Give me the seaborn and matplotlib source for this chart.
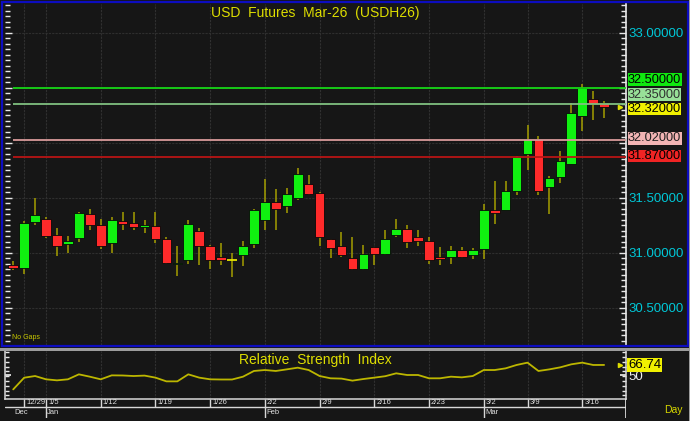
import numpy as np
import pandas as pd
import seaborn as sns
import matplotlib.pyplot as plt
from matplotlib.ticker import MultipleLocator, FuncFormatter
from matplotlib.patches import Rectangle

# trading days on the chart
dates = ["12/26", "12/29", "12/30",
         "1/5", "1/6", "1/7", "1/8", "1/9",
         "1/12", "1/13", "1/14", "1/15", "1/16",
         "1/19", "1/20", "1/21", "1/22", "1/23",
         "1/26", "1/27", "1/28", "1/29", "1/30",
         "2/2", "2/3", "2/4", "2/5", "2/6",
         "2/9", "2/10", "2/11", "2/12", "2/13",
         "2/16", "2/17", "2/18", "2/19", "2/20",
         "2/23", "2/24", "2/25", "2/26", "2/27",
         "3/2", "3/3", "3/4", "3/5",
         "3/9", "3/10", "3/11", "3/12", "3/13",
         "3/16", "3/17", "3/18"]

opens = [30.89, 30.86, 31.28, 31.31, 31.16, 31.08, 31.13, 31.35, 31.25, 31.09,
         31.29, 31.27, 31.23, 31.24, 31.12, 30.90, 30.93, 31.20, 31.06, 30.96,
         30.93, 30.98, 31.08, 31.30, 31.46, 31.42, 31.50, 31.62, 31.54, 31.12,
         31.06, 30.95, 30.85, 31.05, 30.99, 31.16, 31.21, 31.14, 31.11, 30.96,
         30.96, 31.02, 30.98, 31.03, 31.39, 31.39, 31.56, 31.90, 32.03, 31.60,
         31.69, 31.81, 32.24, 32.40, 32.36]
highs = [30.92, 31.29, 31.50, 31.32, 31.22, 31.15, 31.37, 31.40, 31.31, 31.32,
         31.37, 31.37, 31.30, 31.37, 31.14, 31.06, 31.30, 31.22, 31.07, 31.09,
         31.00, 31.11, 31.40, 31.67, 31.58, 31.59, 31.77, 31.71, 31.55, 31.12,
         31.19, 31.14, 31.07, 31.05, 31.21, 31.31, 31.25, 31.21, 31.14, 31.05,
         31.06, 31.05, 31.04, 31.44, 31.65, 31.65, 31.88, 32.16, 32.06, 31.70,
         31.92, 32.36, 32.53, 32.47, 32.38]
lows = [30.84, 30.81, 31.25, 31.13, 30.97, 31.00, 31.10, 31.21, 31.03, 31.00,
        31.21, 31.21, 31.18, 31.09, 30.90, 30.79, 30.90, 30.89, 30.85, 30.89,
        30.78, 30.88, 31.04, 31.21, 31.21, 31.36, 31.48, 31.52, 31.06, 30.95,
        30.96, 30.84, 30.84, 30.89, 30.98, 31.14, 31.04, 31.06, 30.90, 30.89,
        30.90, 30.95, 30.94, 30.94, 31.26, 31.39, 31.52, 31.75, 31.52, 31.35,
        31.63, 31.81, 32.11, 32.21, 32.22]
closes = [30.86, 31.27, 31.34, 31.15, 31.06, 31.11, 31.36, 31.25, 31.06, 31.30,
          31.26, 31.23, 31.25, 31.12, 30.91, 30.91, 31.26, 31.06, 30.93, 30.93,
          30.93, 31.06, 31.39, 31.46, 31.40, 31.53, 31.71, 31.53, 31.14, 31.04,
          30.98, 30.85, 30.99, 30.99, 31.12, 31.21, 31.10, 31.11, 30.93, 30.94,
          31.02, 30.96, 31.02, 31.39, 31.36, 31.56, 31.87, 32.03, 31.56, 31.68,
          31.83, 32.27, 32.50, 32.35, 32.32]

rsi = [26.0, 45.5, 48.3, 42.8, 41.1, 42.8, 51.1, 47.2, 42.8, 49.4,
       49.2, 48.3, 49.0, 45.6, 39.4, 39.4, 51.1, 45.6, 42.8, 42.5,
       42.5, 47.2, 56.7, 58.3, 56.7, 59.4, 62.2, 58.3, 48.3, 44.5,
       44.0, 40.6, 43.3, 45.6, 48.0, 52.8, 50.0, 50.0, 44.5, 44.5,
       47.2, 46.1, 48.3, 58.3, 58.3, 61.1, 66.7, 70.6, 56.7, 59.4,
       62.8, 67.8, 70.6, 66.7, 66.74]

# horizontal study lines: value, line colour, box colour, text colour
levels = [32.50, 32.35, 32.32, 32.02, 31.87]
level_line_colors = ["#16d616", "#80c080", None, "#d89a9a", "#b81414"]
level_box_colors = ["#10e810", "#98e098", "#f0f000", "#f2b4b4", "#f02424"]
level_text_colors = ["#000000", "#303030", "#000000", "#202020", "#000000"]
level_shift_px = [8, 9.5, -1.5, 2, 1]

title = "USD  Futures  Mar-26  (USDH26)"
rsi_title = "Relative  Strength  Index"
month_names = {12: "Dec", 1: "Jan", 2: "Feb", 3: "Mar"}

BG = "#161616"
YEL = "#dede00"
W, H = 690, 421

sns.set_theme(style="dark", rc={"axes.facecolor": BG, "figure.facecolor": BG})
plt.rcParams['font.family'] = ['Liberation Sans', 'DejaVu Sans']


def px(x0, y0, x1, y1):
    return [x0 / W, 1 - y1 / H, (x1 - x0) / W, (y1 - y0) / H]


def price_fmt(v, pos):
    # labels sitting under a study box are hidden, as on the terminal
    if any(abs(v - lv) < 0.1 for lv in levels):
        return ""
    return f"{v:.5f}"


n = len(dates)
idx = np.arange(n)
dt = pd.to_datetime([("2025/" if d.startswith("12/") else "2026/") + d for d in dates],
                    format="%Y/%m/%d")
weeks = dt.isocalendar().week.values
week_starts = [i for i in range(1, n) if weeks[i] != weeks[i - 1]]
month_starts = [i for i in range(1, n) if dt.month[i] != dt.month[i - 1]]
xlim = (-0.75, n + 1.0)

fig = plt.figure(figsize=(W / 100, H / 100), dpi=100)

# ---------------- main price panel
ax = fig.add_axes(px(5, 4, 626, 345))
ax.set_facecolor(BG)
ax.set_xlim(*xlim)
ax.set_ylim(30.16, 33.26)

o = np.array(opens); c = np.array(closes)
up = c >= o
doji = np.isclose(o, c)
body_col = np.where(up, "#10f010", "#ff2a2a")
ax.vlines(idx, lows, highs, color="#a59f00", lw=1.1, zorder=2)
ax.bar(idx[~doji], np.abs(c - o)[~doji], bottom=np.minimum(o, c)[~doji], width=0.88,
       color=body_col[~doji], edgecolor="#080808", linewidth=0.6, zorder=3)
ax.hlines(c[doji], idx[doji] - 0.44, idx[doji] + 0.44, color="#e6e600", lw=1.3, zorder=3)

for lv, lc in zip(levels, level_line_colors):
    if lc:
        ax.hlines(lv, 0, xlim[1], color=lc, lw=1.3, zorder=4)

# grid
for i in week_starts:
    ax.axvline(i, color="#303030", lw=0.8, ls=(0, (2, 1)), zorder=1)
ax.yaxis.set_major_locator(MultipleLocator(0.5))
ax.yaxis.set_minor_locator(MultipleLocator(0.05))
ax.yaxis.set_major_formatter(FuncFormatter(price_fmt))
ax.grid(axis="y", which="major", color="#2e2e2e", lw=0.8, ls=(0, (2, 1)))
ax.grid(axis="x", visible=False)
ax.set_xticks([])
ax.yaxis.set_ticks_position("both")
ax.tick_params(axis="y", which="both", direction="in", color="#e8e8e8",
               labelleft=False, labelright=True)
ax.tick_params(axis="y", which="major", length=5, width=1, labelsize=9.5,
               labelcolor="#00c8d8", pad=2)
ax.tick_params(axis="y", which="minor", length=3.5, width=1)
for s in ["top", "bottom", "left"]:
    ax.spines[s].set_visible(False)
ax.spines["right"].set_color("#e8e8e8")
ax.spines["right"].set_linewidth(1.2)

for lv, bc, tc, sh in zip(levels, level_box_colors, level_text_colors, level_shift_px):
    ax.annotate(f"{lv:.5f}", xy=(1, lv), xycoords=("axes fraction", "data"),
                xytext=(2, sh), textcoords="offset pixels", ha="left", va="center",
                fontsize=9.2, color=tc, annotation_clip=False, zorder=6,
                bbox=dict(boxstyle="square,pad=0.02", fc=bc, ec="none"))
ax.plot([xlim[1] - 0.55], [closes[-1]], marker=">", ms=3, color=YEL, clip_on=False, zorder=6)

ax.text(0.5, 0.975, title, transform=ax.transAxes, ha="center", va="center",
        fontsize=10, color=YEL)
ax.text(0.012, 0.012, "No Gaps", transform=ax.transAxes, ha="left", va="bottom",
        fontsize=5, color="#c8c800")

# ---------------- RSI panel
ax2 = fig.add_axes(px(5, 351, 626, 399))
ax2.set_facecolor(BG)
sns.lineplot(x=idx, y=rsi, ax=ax2, color="#bcb600", lw=1.3)
ax2.set_xlim(*xlim)
ax2.set_ylim(10, 90)
for i in week_starts:
    ax2.axvline(i, color="#303030", lw=0.8, ls=(0, (2, 1)), zorder=0)
ax2.grid(False)
ax2.set_xticks([])
ax2.set_yticks([50])
ax2.yaxis.set_minor_locator(MultipleLocator(8))
ax2.yaxis.set_ticks_position("both")
ax2.tick_params(axis="y", which="both", direction="in", color="#e8e8e8",
                labelleft=False, labelright=True)
ax2.tick_params(axis="y", which="major", length=4, labelsize=9.5,
                labelcolor="#f0f0f0", pad=2)
ax2.tick_params(axis="y", which="minor", length=3)
ax2.spines["top"].set_visible(False)
for s in ["left", "bottom", "right"]:
    ax2.spines[s].set_color("#d8d8d8")
    ax2.spines[s].set_linewidth(1.1)
ax2.set_xlabel("")
ax2.set_ylabel("")
ax2.annotate(f"{rsi[-1]:.2f}", xy=(1, rsi[-1]), xycoords=("axes fraction", "data"),
             xytext=(2, 0), textcoords="offset pixels", ha="left", va="center",
             fontsize=9.5, color="#000000", annotation_clip=False, zorder=6,
             bbox=dict(boxstyle="square,pad=0.05", fc="#f0f000", ec="none"))
ax2.plot([xlim[1] - 0.55], [rsi[-1]], marker=">", ms=3, color=YEL, clip_on=False, zorder=6)
ax2.text(0.5, 0.82, rsi_title, transform=ax2.transAxes, ha="center", va="center",
         fontsize=10, color=YEL)

# ---------------- date rows
ax3 = fig.add_axes(px(5, 399, 626, 418))
ax3.set_facecolor(BG)
ax3.set_xlim(*xlim)
ax3.set_ylim(0, 19)
ax3.axis("off")
ax3.axhline(11, color="#d8d8d8", lw=1)
for i in week_starts:
    ax3.vlines(i, 11, 19, color="#d8d8d8", lw=1)
    ax3.text(i + 0.18, 15, f"{dt.month[i]}/{dt.day[i]}", ha="left", va="center",
             fontsize=5.5, color="#e0e0e0")
for i in month_starts:
    ax3.vlines(i, 0, 11, color="#d8d8d8", lw=1)
for i in [0] + month_starts:
    ax3.text(i + 0.12, 5.5, month_names[dt.month[i]], ha="left", va="center",
             fontsize=5.5, color="#e0e0e0")
ax3.vlines(xlim[1], 0, 19, color="#e8e8e8", lw=1.2)

# ---------------- frame
fig.text(664 / W, 1 - 410 / H, "Day", ha="left", va="center", fontsize=7.5, color="#d8d800")
fig.patches.append(Rectangle((1.5 / W, 1 - 346 / H), 686 / W, 344.5 / H, transform=fig.transFigure,
                             fill=False, ec="#0c0cc0", lw=1.6))
fig.patches.append(Rectangle((0, 1 - 350.5 / H), 1, 3 / H, transform=fig.transFigure,
                             fc="#9c9c9c", ec="none"))
fig.patches.append(Rectangle((688.5 / W, 0), 1.5 / W, 1, transform=fig.transFigure,
                             fc="#9c9c9c", ec="none"))

plt.savefig("out.png", dpi=100, facecolor=BG)
